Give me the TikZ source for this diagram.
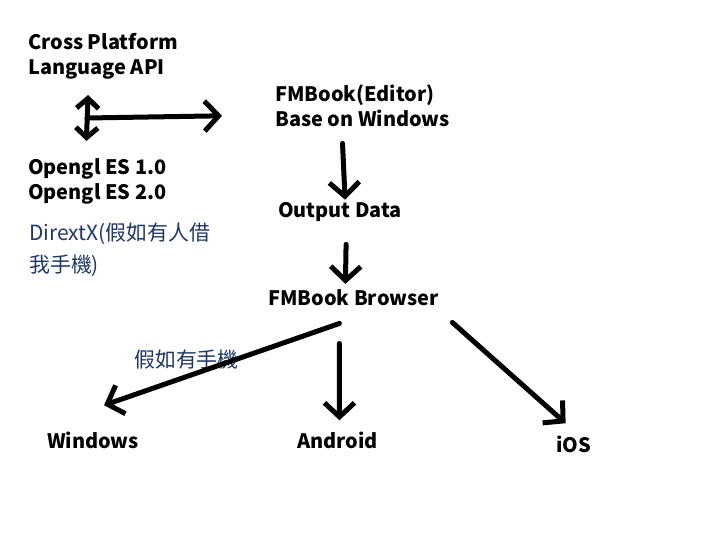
\documentclass[tikz,border=0pt]{standalone}
\usepackage{fontspec}
\setmainfont{Noto Sans CJK TC}
\usetikzlibrary{arrows.meta}
\definecolor{navy}{HTML}{1F3864}
\begin{document}
\begin{tikzpicture}[x=1bp, y=-1bp, line join=round, line cap=round,
    lbl/.style={anchor=base west, inner sep=0pt, align=left, font=\fontsize{20}{26}\selectfont\bfseries},
    note/.style={anchor=base west, inner sep=0pt, align=left, text=navy, font=\fontsize{21}{33}\selectfont},
    arr/.style={line width=5bp, -{Straight Barb[length=14bp,width=30bp]}},
    darr/.style={line width=5bp, {Straight Barb[length=10bp,width=22bp]}-{Straight Barb[length=10bp,width=22bp]}}]
    \useasboundingbox (0,0) rectangle (716,556);
    % texts (base = last line)
    \node[lbl] (api) at (28,75) {Cross Platform\\Language API};
    \node[lbl] (gl) at (28,200) {Opengl ES 1.0\\Opengl ES 2.0};
    \node[note] (dx) at (29,273) {DirextX(假如有人借\\我手機)};
    \node[lbl] (editor) at (275,127) {FMBook(Editor)\\Base on Windows};
    \node[lbl] (output) at (278,218) {Output Data};
    \node[lbl] (browser) at (268,305) {FMBook Browser};
    \node[note] (phone) at (134,367) {假如有手機};
    \node[lbl] (win) at (47,448) {Windows};
    \node[lbl] (andr) at (297,448) {Android};
    \node[lbl] (ios) at (556,452) {iOS};
    % arrows
    \draw[darr] ([xshift=-15bp,yshift=-15bp]api.south) -- ([xshift=-11bp,yshift=17bp]gl.north);
    \coordinate (mid) at (87,118);
    \draw[arr] (mid) -- ([shift={(-53bp,-10bp)}]editor.west);
    \draw[arr] ([xshift=-20bp,yshift=-16bp]editor.south) -- ([xshift=5bp,yshift=3bp]output.north);
    \draw[arr] ([xshift=6bp,yshift=-22bp]output.south) -- ([xshift=-8bp,yshift=5bp]browser.north);
    \draw[arr] ([shift={(-14bp,-18bp)}]browser.south) -- ([shift={(11bp,26bp)}]win.north);
    \draw[arr] ([shift={(-14bp,-38bp)}]browser.south) -- ([shift={(2bp,11bp)}]andr.north);
    \draw[arr] ([shift={(99bp,-17bp)}]browser.south) -- ([shift={(-8bp,12bp)}]ios.north);
\end{tikzpicture}
\end{document}
